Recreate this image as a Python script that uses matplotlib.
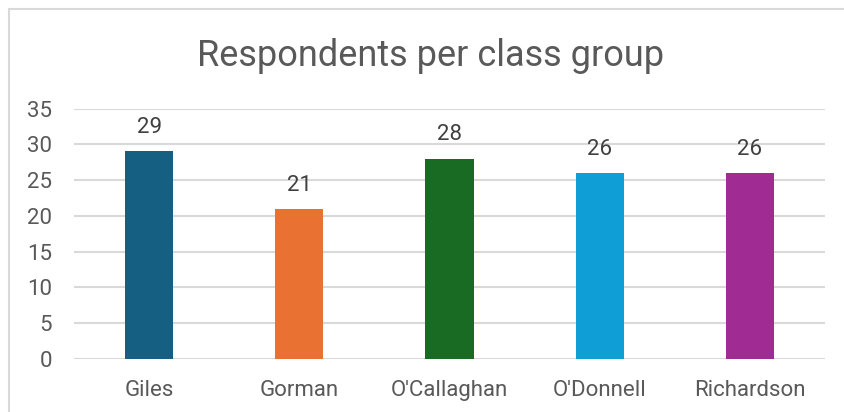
import matplotlib
matplotlib.use("Agg")
import matplotlib.pyplot as plt
from matplotlib.patches import Rectangle

categories = ["Giles", "Gorman", "O'Callaghan", "O'Donnell", "Richardson"]
values = [29, 21, 28, 26, 26]
colors = ["#156082", "#E97132", "#196B24", "#0F9ED5", "#A02B93"]
title = "Respondents per class group"
yticks = [0, 5, 10, 15, 20, 25, 30, 35]

plt.rcParams['font.family'] = ['Roboto', 'DejaVu Sans']

W, H = 844, 412
fig = plt.figure(figsize=(W/100, H/100), dpi=100)
ax = fig.add_axes([74/W, 1-359/H, 751/W, (359-108.5)/H])

x = list(range(len(categories)))
bars = ax.bar(x, values, width=0.32, color=colors, zorder=3)
for xi, v in zip(x, values):
    ax.annotate(str(v), (xi, v), xytext=(0, 9.5), textcoords='offset points',
                ha='center', va='bottom', fontsize=16, color='#404040')

ax.set_xlim(-0.5, len(categories)-0.5)
ax.set_ylim(0, 35)
ax.set_yticks(yticks)
ax.set_xticks(x)
ax.set_xticklabels(categories)
ax.tick_params(axis='both', length=0, labelsize=16, labelcolor='#595959')
ax.tick_params(axis='x', pad=15)
ax.tick_params(axis='y', pad=16)
ax.grid(axis='y', color='#d9d9d9', linewidth=1.5, zorder=0)
for s in ax.spines.values():
    s.set_visible(False)

fig.text(431/W, 1-66/H, title, ha='center', va='baseline', fontsize=26, color='#595959')

fig.patches.append(Rectangle((9/W, -0.1), 1.2, 1 - 9/H + 0.1, transform=fig.transFigure,
                             fill=False, edgecolor='#d9d9d9', linewidth=1.5))

fig.savefig("out.png", dpi=100)
